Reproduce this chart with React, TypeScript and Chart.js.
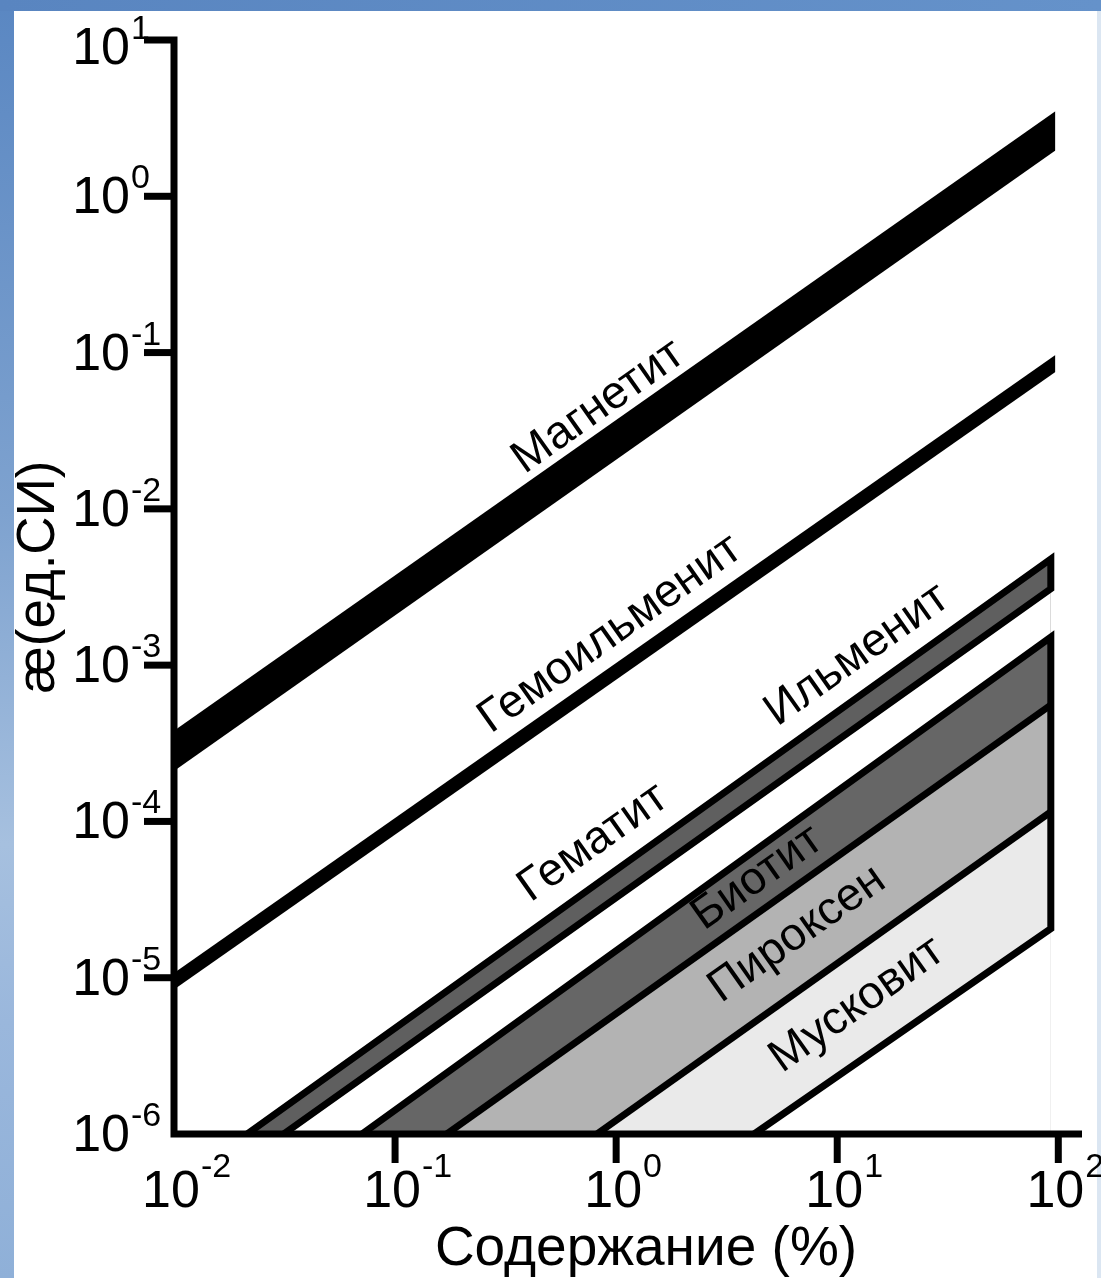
import { useEffect, useRef } from 'react';
import { Chart, registerables } from 'chart.js';

Chart.register(...registerables);

const FONT = '"Liberation Sans", Arial, Helvetica, sans-serif';

// Axis ranges
const X_MIN = 0.01;
const X_MAX = 128;
const Y_MIN = 1e-6;
const Y_MAX = 10;

// Tick values and exponent labels
const X_TICKS = [0.01, 0.1, 1, 10, 100];
const X_EXP = ['-2', '-1', '0', '1', '2'];
const Y_TICKS = [10, 1, 0.1, 0.01, 1e-3, 1e-4, 1e-5, 1e-6];
const Y_EXP = ['1', '0', '-1', '-2', '-3', '-4', '-5', '-6'];

const X_TITLE = 'Содержание (%)';
const Y_TITLE = 'æ(ед.СИ)';

// Band boundary lines: [left end, right end]  (x = %, y = SI units)
const magnetitTop = [{ x: 0.01, y: 3.8e-4 }, { x: 97, y: 3.5 }];
const magnetitBottom = [{ x: 0.01, y: 2.1e-4 }, { x: 97, y: 1.96 }];
const gemoTop = [{ x: 0.01, y: 1.07e-5 }, { x: 97, y: 0.0966 }];
const gemoBottom = [{ x: 0.01, y: 8.4e-6 }, { x: 97, y: 0.0752 }];
const ilmTop = [{ x: 0.0214, y: 1e-6 }, { x: 92.5, y: 4.78e-3 }];
const ilmBottom = [{ x: 0.0313, y: 1e-6 }, { x: 92.5, y: 3.08e-3 }];
const bioTop = [{ x: 0.0708, y: 1e-6 }, { x: 92.5, y: 1.51e-3 }];
const bioPyr = [{ x: 0.171, y: 1e-6 }, { x: 92.5, y: 5.56e-4 }];
const pyrMus = [{ x: 0.818, y: 1e-6 }, { x: 92.5, y: 1.15e-4 }];
const musBottom = [{ x: 4.21, y: 1e-6 }, { x: 92.5, y: 2.06e-5 }];

// Mineral labels (anchor in data coordinates)
const LABEL_TEXT = ['Магнетит', 'Гемоильменит', 'Ильменит', 'Гематит', 'Биотит', 'Пироксен', 'Мусковит'];
const LABEL_X = [0.83, 0.94, 12.3, 0.787, 4.35, 6.59, 12.3];
const LABEL_Y = [0.045, 1.58e-3, 1.16e-3, 7.3e-5, 4.35e-5, 1.9e-5, 6.7e-6];

const C_ILM = '#5f5f5f';
const C_BIO = '#666666';
const C_PYR = '#b3b3b3';
const C_MUS = '#eaeaea';
const C_BG = '#ffffff';

function area(data: any[], color: string, fill: any, order: number) {
  return { data, borderWidth: 0, pointRadius: 0, backgroundColor: color, fill, order };
}

function outline(points: any[]) {
  return {
    data: points,
    borderWidth: 7,
    borderColor: '#000',
    borderJoinStyle: 'miter',
    borderCapStyle: 'butt',
    pointRadius: 0,
    fill: false,
    order: 0,
  };
}

const decor = {
  id: 'decor',
  afterDatasetsDraw(chart: any) {
    const { ctx } = chart;
    const xs = chart.scales.x;
    const ys = chart.scales.y;
    const xL = xs.getPixelForValue(X_MIN);
    const xR = xs.right;
    const yT = ys.getPixelForValue(Y_MAX);
    const yB = ys.getPixelForValue(Y_MIN);
    ctx.save();
    ctx.strokeStyle = '#000';
    ctx.fillStyle = '#000';
    ctx.lineWidth = 7;
    ctx.lineJoin = 'miter';
    ctx.lineCap = 'butt';
    // axes
    ctx.beginPath();
    ctx.moveTo(xL - 30, yT);
    ctx.lineTo(xL, yT);
    ctx.lineTo(xL, yB);
    ctx.lineTo(xR, yB);
    ctx.stroke();
    // y ticks
    Y_TICKS.forEach((v) => {
      if (v === Y_MAX || v === Y_MIN) return;
      const py = ys.getPixelForValue(v);
      ctx.beginPath();
      ctx.moveTo(xL - 30, py);
      ctx.lineTo(xL, py);
      ctx.stroke();
    });
    // x ticks
    X_TICKS.forEach((v) => {
      if (v === X_MIN) return;
      const px = xs.getPixelForValue(v);
      ctx.beginPath();
      ctx.moveTo(px, yB);
      ctx.lineTo(px, yB + 29);
      ctx.stroke();
    });
    // y labels (the topmost one sits a little lower, as in the original)
    Y_TICKS.forEach((v, i) => {
      const py = ys.getPixelForValue(v) + (v === Y_MAX ? 7 : 0);
      ctx.font = `52px ${FONT}`;
      ctx.textAlign = 'right';
      ctx.textBaseline = 'alphabetic';
      ctx.fillText('10', xL - 44, py + 17);
      ctx.font = `34px ${FONT}`;
      ctx.textAlign = 'left';
      ctx.fillText(Y_EXP[i], xL - 43, py - 8);
    });
    // x labels
    X_TICKS.forEach((v, i) => {
      const px = xs.getPixelForValue(v) - 3;
      ctx.font = `52px ${FONT}`;
      ctx.textAlign = 'center';
      ctx.textBaseline = 'alphabetic';
      const w = ctx.measureText('10').width;
      ctx.fillText('10', px, yB + 73);
      ctx.font = `34px ${FONT}`;
      ctx.textAlign = 'left';
      ctx.fillText(X_EXP[i], px + w / 2 + 1, yB + 43);
    });
    // axis titles
    ctx.font = `55px ${FONT}`;
    ctx.textAlign = 'center';
    ctx.textBaseline = 'alphabetic';
    ctx.fillText(X_TITLE, 646, yB + 131);
    ctx.save();
    ctx.translate(54, 577);
    ctx.rotate(-Math.PI / 2);
    ctx.font = `53px ${FONT}`;
    ctx.fillText(Y_TITLE, 0, 0);
    ctx.restore();
    // mineral labels along slope-1 direction
    const dx = xs.getPixelForValue(1) - xs.getPixelForValue(0.1);
    const dy = ys.getPixelForValue(1e-6) - ys.getPixelForValue(1e-5);
    const ang = -Math.atan2(dy, dx);
    ctx.font = `46px ${FONT}`;
    ctx.textAlign = 'center';
    ctx.textBaseline = 'middle';
    LABEL_TEXT.forEach((t, i) => {
      const px = xs.getPixelForValue(LABEL_X[i]);
      const py = ys.getPixelForValue(LABEL_Y[i]);
      ctx.save();
      ctx.translate(px, py);
      ctx.rotate(ang);
      ctx.fillText(t, 0, 0);
      ctx.restore();
    });
    ctx.restore();
  },
};

export default function App() {
  const ref = useRef<HTMLCanvasElement>(null);
  useEffect(() => {
    // fills are painted from the highest order to the lowest
    const datasets: any[] = [
      area(magnetitTop, '#000', '+1', 50),
      area(magnetitBottom, '#000', false, 50),
      area(gemoTop, '#000', '+1', 49),
      area(gemoBottom, '#000', false, 49),
      area(ilmTop, C_ILM, 'start', 48),
      area(ilmBottom, C_BG, 'start', 47),
      area(bioTop, C_BIO, 'start', 46),
      area(bioPyr, C_PYR, 'start', 45),
      area(pyrMus, C_MUS, 'start', 44),
      area(musBottom, C_BG, 'start', 43),
      outline([ilmTop[0], ilmTop[1], ilmBottom[1], ilmBottom[0]]),
      outline([bioTop[0], bioTop[1], musBottom[1], musBottom[0]]),
      outline(bioPyr),
      outline(pyrMus),
    ];
    const chart = new Chart(ref.current as HTMLCanvasElement, {
      type: 'line',
      data: { datasets },
      options: {
        animation: false,
        responsive: false,
        devicePixelRatio: 1,
        events: [],
        layout: { padding: { left: 174, top: 40, right: 19, bottom: 144 } },
        scales: {
          x: { type: 'logarithmic', min: X_MIN, max: X_MAX, display: false },
          y: { type: 'logarithmic', min: Y_MIN, max: Y_MAX, display: false },
        },
        plugins: {
          legend: { display: false },
          tooltip: { enabled: false },
          filler: { drawTime: 'beforeDatasetsDraw' },
        },
      } as any,
      plugins: [decor],
    });
    return () => chart.destroy();
  }, []);
  return (
    <div
      style={{
        position: 'absolute',
        left: 0,
        top: 0,
        width: 1101,
        height: 1278,
        overflow: 'hidden',
        background:
          'linear-gradient(to bottom, #5a87c2 0%, #7ea2cf 40%, #a6c0df 66%, #9ab7dc 80%, #8fb0d8 100%)',
      }}
    >
      <div
        style={{
          position: 'absolute',
          left: 0,
          top: 0,
          width: 1101,
          height: 11,
          background: 'linear-gradient(to right, #5985c0, #6592ca)',
        }}
      />
      <div style={{ position: 'absolute', left: 14, top: 11, width: 1083, height: 1267, background: '#ffffff' }} />
      <div style={{ position: 'absolute', left: 1097, top: 11, width: 4, height: 1267, background: '#dbe6f2' }} />
      <canvas
        ref={ref}
        width={1101}
        height={1278}
        style={{ position: 'absolute', left: 0, top: 0, width: 1101, height: 1278 }}
      />
    </div>
  );
}
